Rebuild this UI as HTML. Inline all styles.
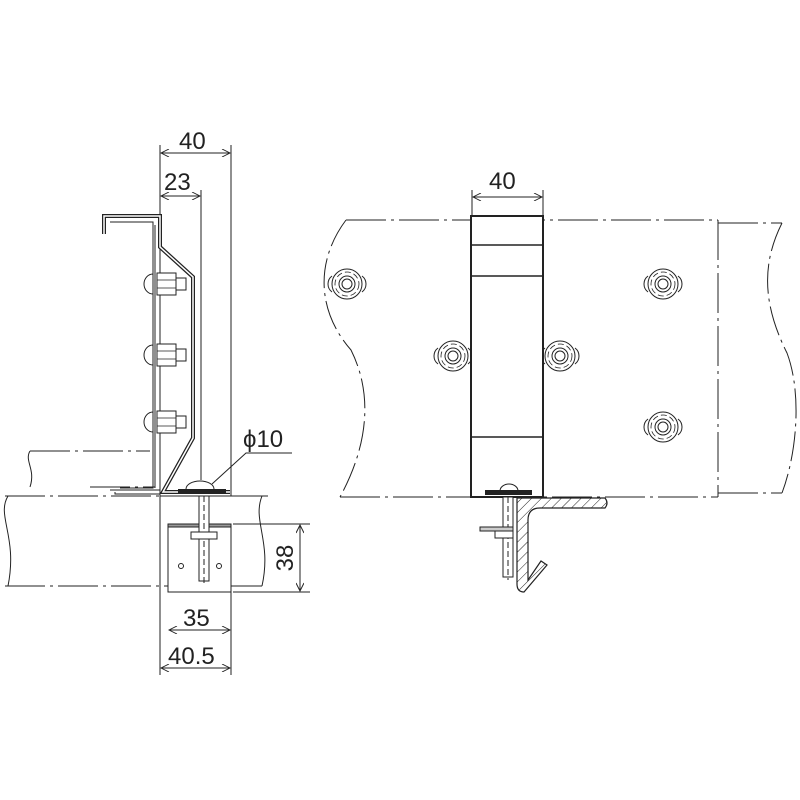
<!DOCTYPE html>
<html><head><meta charset="utf-8"><style>
html,body{margin:0;padding:0;background:#fff}
svg{display:block}
text{font-family:"Liberation Sans",sans-serif;fill:#222}
</style></head><body>
<svg width="800" height="800" viewBox="0 0 800 800" xmlns="http://www.w3.org/2000/svg">
<defs>
<marker id="a" viewBox="0 0 10 10" refX="10" refY="5" markerWidth="10" markerHeight="8" orient="auto-start-reverse" markerUnits="userSpaceOnUse"><path d="M0,0 L10,5 L0,10" fill="none" stroke="#222" stroke-width="1.2"/></marker>
<pattern id="h" width="7" height="7" patternUnits="userSpaceOnUse" patternTransform="rotate(45)"><rect width="7" height="7" fill="#fff"/><line x1="0" y1="0" x2="0" y2="7" stroke="#222" stroke-width="1"/></pattern>
<g id="bolt"><circle r="15" fill="#fff" stroke="#222" stroke-width="1"/><path d="M-15,-8 a10,10 0 0 0 0,16 M15,-8 a10,10 0 0 1 0,16" fill="none" stroke="#222" stroke-width="1"/><circle r="12" fill="none" stroke="#222" stroke-width="0.8" stroke-dasharray="6 3"/><circle r="8" fill="none" stroke="#222" stroke-width="1"/><circle r="5" fill="none" stroke="#222" stroke-width="1"/></g>
<g id="lb"><path d="M153,-10 a9,10 0 0 0 0,20 z" fill="#fff" stroke="#222"/><rect x="157" y="-11" width="19" height="22" fill="#fff" stroke="#222"/><line x1="157" y1="-4" x2="176" y2="-4" stroke="#222" stroke-width=".7"/><line x1="157" y1="4" x2="176" y2="4" stroke="#222" stroke-width=".7"/><rect x="176" y="-6" width="10" height="12" fill="#fff" stroke="#222"/></g>
</defs>
<g fill="none" stroke="#222" stroke-width="1">
<path d="M30,451 H150" stroke-dasharray="40 5 3 5"/>
<path d="M30,451 c-6,10 6,18 0,36"/>
<path d="M90,487 H155" stroke-dasharray="40 5 3 5"/>
<path d="M5,496 H160" stroke-dasharray="40 5 3 5"/>
<path d="M160,496 H268"/>
<path d="M8,496 c-12,20 10,40 0,90"/>
<path d="M5,586 H168" stroke-dasharray="40 5 3 5"/>
<path d="M231,586 H262"/>
<path d="M262,496 c-10,25 10,45 0,90"/>
<path d="M110,490 H160"/>
<path d="M115,492 V494 H160"/>
<path d="M160,145 V675"/><path d="M231,145 V496 M231,592 V675"/><path d="M201,190 V480"/>
<path d="M233,524 H310 M233,592 H310"/>
<path d="M161,153 H230" marker-start="url(#a)" marker-end="url(#a)"/>
<path d="M161,196 H200" marker-start="url(#a)" marker-end="url(#a)"/>
<path d="M300,525 V591" marker-start="url(#a)" marker-end="url(#a)"/>
<path d="M169,630 H230" marker-start="url(#a)" marker-end="url(#a)"/>
<path d="M161,668 H230" marker-start="url(#a)" marker-end="url(#a)"/>
<path d="M292,453 H246 L212,484"/>
<path d="M104,234 V216 H160 V247 L193,277 V438 L163,492 H230" stroke-width="4"/>
<path d="M104,234 V216 H160 V247 L193,277 V438 L163,492 H230" stroke="#fff" stroke-width="1.5"/>
<path d="M110,222 H153 V488 H120"/>
<path d="M155,225 V488"/>
</g>
<use href="#lb" x="0" y="284"/><use href="#lb" x="0" y="355"/><use href="#lb" x="0" y="422"/>
<g fill="none" stroke="#222" stroke-width="1">
<rect x="168" y="524" width="63" height="68" fill="#fff"/>
<rect x="168" y="524" width="63" height="3" fill="#999"/>
<circle cx="181" cy="566" r="2.5"/><circle cx="219" cy="566" r="2.5"/>
<rect x="199" y="496" width="10" height="85" fill="#fff"/>
<line x1="204" y1="496" x2="204" y2="585" stroke-dasharray="6 3"/>
<rect x="191" y="532" width="26" height="7" fill="#fff"/>
<path d="M186,489 a14,8 0 0 1 28,0" fill="#fff"/>
</g>
<rect x="178" y="489" width="48" height="5" fill="#222"/>
<text x="179" y="149" font-size="24">40</text>
<text x="164" y="190" font-size="24">23</text>
<text x="243" y="447" font-size="24">ϕ10</text>
<text x="183" y="626" font-size="24">35</text>
<text x="168" y="664" font-size="24">40.5</text>
<text transform="translate(293,558) rotate(-90)" font-size="24" text-anchor="middle">38</text>

<g fill="none" stroke="#222" stroke-width="1">
<path d="M346,220 H718" stroke-dasharray="40 5 3 5"/>
<path d="M340,497 H718" stroke-dasharray="40 5 3 5"/>
<path d="M346,220 c-30,40 -30,90 5,130 c20,40 20,90 -11,147" stroke-dasharray="30 5 3 5"/>
<path d="M718,220 V497" stroke-dasharray="40 5 3 5"/>
<path d="M718,223 H782 M718,493 H782" stroke-dasharray="40 5 3 5"/>
<path d="M782,223 c-20,40 -20,80 5,130 c15,40 10,100 -5,140" stroke-dasharray="30 5 3 5"/>
<path d="M472,190 V216 M543,190 V216"/>
<path d="M473,197 H542" marker-start="url(#a)" marker-end="url(#a)"/>
</g>
<use href="#bolt" x="347" y="284"/><use href="#bolt" x="663" y="284"/><use href="#bolt" x="453" y="356"/><use href="#bolt" x="560" y="356"/><use href="#bolt" x="663" y="427"/>
<g fill="none" stroke="#222">
<rect x="471" y="216" width="72" height="281" fill="#fff" stroke-width="2"/>
<path d="M471,245 H543 M471,276 H543 M471,437 H543" stroke-width="1.5"/>
<path d="M517,498 H605 q4,5 0,10 H540 q-12,0 -12,12 V580 L541,561 L547,565 L524,592 q-7,0 -7,-8 Z" fill="url(#h)" stroke-width="1.2"/>
<rect x="503" y="497" width="10" height="80" fill="#fff"/>
<line x1="508" y1="497" x2="508" y2="580" stroke-dasharray="6 3"/>
<rect x="480" y="527" width="33" height="4" fill="#ccc"/>
<rect x="495" y="531" width="18" height="7" fill="#fff"/>
<path d="M500,491 a9,7 0 0 1 18,0" fill="#fff"/>
</g>
<rect x="485" y="490" width="47" height="5" fill="#222"/>
<text x="489" y="189" font-size="24">40</text>
</svg>
</body></html>
